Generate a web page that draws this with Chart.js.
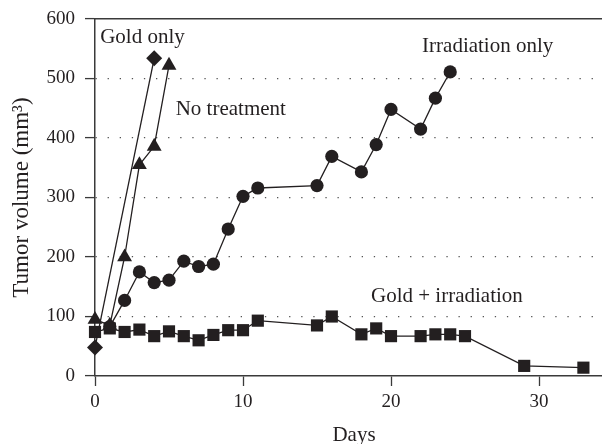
<!DOCTYPE html>
<html>
<head>
<meta charset="utf-8">
<script src="https://cdn.jsdelivr.net/npm/chart.js@4/dist/chart.umd.min.js"></script>
<style>
  html, body { margin: 0; padding: 0; background: #ffffff; overflow: hidden; }
  #frame { width: 602px; height: 444px; overflow: hidden; }
  canvas { display: block; }
</style>
</head>
<body>
<div id="frame"><canvas id="chart" width="613" height="444"></canvas></div>
<script>
// Tumor growth per treatment group (days after treatment, volume in mm³)
const goldOnlyDays = [0, 4];
const goldOnlyVolume = [48, 534];

const noTreatmentDays = [0, 1, 2, 3, 4, 5];
const noTreatmentVolume = [95, 85, 200, 355, 386, 522];

const irradiationDays = [1, 2, 3, 4, 5, 6, 7, 8, 9, 10, 11, 15, 16, 18, 19, 20, 22, 23, 24];
const irradiationVolume = [83, 127, 175, 157, 161, 193, 184, 188, 247, 302, 316, 320, 369, 343, 389, 448, 415, 467, 511];

const goldIrradiationDays = [0, 1, 2, 3, 4, 5, 6, 7, 8, 9, 10, 11, 15, 16, 18, 19, 20, 22, 23, 24, 25, 29, 33];
const goldIrradiationVolume = [74, 80, 74, 78, 67, 75, 67, 60, 69, 77, 77, 93, 85, 100, 70, 80, 67, 67, 70, 70, 67, 17, 14];

const xTickValues = [0, 10, 20, 30];
const yTickValues = [0, 100, 200, 300, 400, 500, 600];

const groupNames = ['Gold only', 'No treatment', 'Irradiation only', 'Gold + irradiation'];

// Where each group's name is written (in data units: day, volume)
const groupNameAnchors = [
  { day: 0.35, volume: 560 },
  { day: 5.45, volume: 439 },
  { day: 22.1, volume: 545 },
  { day: 18.65, volume: 124 }
];

const INK = '#231f20';
const AXIS = '#3a3a3a';
const SERIF = '"Liberation Serif", "Times New Roman", serif';

const toPoints = (xs, ys) => xs.map((x, i) => ({ x: x, y: ys[i] }));

function series(label, xs, ys, style, radius) {
  return {
    label: label,
    data: toPoints(xs, ys),
    borderColor: INK,
    backgroundColor: INK,
    borderWidth: 1.3,
    pointStyle: style,
    pointRadius: radius,
    pointHoverRadius: radius,
    pointBorderWidth: 0,
    pointBackgroundColor: INK,
    tension: 0,
    fill: false,
    clip: false
  };
}

const groupNamesPlugin = {
  id: 'groupNames',
  afterDatasetsDraw(chart) {
    const { ctx, scales } = chart;
    ctx.save();
    ctx.font = '21px ' + SERIF;
    ctx.fillStyle = INK;
    ctx.textAlign = 'left';
    ctx.textBaseline = 'alphabetic';
    groupNames.forEach((name, i) => {
      const a = groupNameAnchors[i];
      ctx.fillText(name, scales.x.getPixelForValue(a.day), scales.y.getPixelForValue(a.volume));
    });
    ctx.restore();
  }
};

new Chart(document.getElementById('chart'), {
  type: 'line',
  data: {
    datasets: [
      series(groupNames[1], noTreatmentDays, noTreatmentVolume, 'triangle', 8.6),
      series(groupNames[0], goldOnlyDays, goldOnlyVolume, 'rectRot', 8),
      series(groupNames[2], irradiationDays, irradiationVolume, 'circle', 6.6),
      series(groupNames[3], goldIrradiationDays, goldIrradiationVolume, 'rect', 8.6)
    ]
  },
  options: {
    responsive: false,
    devicePixelRatio: 1,
    animation: false,
    events: [],
    layout: { autoPadding: false, padding: { top: 19, right: 0, left: 0, bottom: 0 } },
    plugins: {
      legend: { display: false },
      tooltip: { enabled: false }
    },
    scales: {
      x: {
        type: 'linear',
        position: 'bottom',
        min: 0,
        max: 35,
        afterFit(scale) {
          scale.height = 68;
          scale.paddingLeft = 0;
          scale.paddingRight = 0;
        },
        afterBuildTicks(scale) { scale.ticks = xTickValues.map(v => ({ value: v })); },
        ticks: {
          includeBounds: false,
          color: INK,
          padding: 5,
          maxRotation: 0,
          font: { family: SERIF, size: 19 }
        },
        grid: {
          drawOnChartArea: false,
          drawTicks: true,
          tickLength: 10,
          tickColor: AXIS,
          tickWidth: 1.3
        },
        border: { display: true, color: AXIS, width: 1.5 },
        title: {
          display: true,
          text: 'Days',
          color: INK,
          font: { family: SERIF, size: 21, lineHeight: 1 },
          padding: { top: 0, bottom: -1.5 }
        }
      },
      frameTop: {
        type: 'linear',
        position: 'top',
        axis: 'x',
        min: 0,
        max: 35,
        afterFit(scale) {
          scale.height = 0;
          scale.paddingLeft = 0;
          scale.paddingRight = 0;
        },
        ticks: { display: false },
        grid: { display: false, drawTicks: false },
        border: { display: true, color: AXIS, width: 1.5 }
      },
      y: {
        type: 'linear',
        min: 0,
        max: 600,
        afterFit(scale) {
          scale.width = 95;
          scale.paddingTop = 0;
          scale.paddingBottom = 0;
        },
        afterBuildTicks(scale) { scale.ticks = yTickValues.map(v => ({ value: v })); },
        ticks: {
          color: INK,
          padding: 10,
          font: { family: SERIF, size: 19 }
        },
        grid: {
          drawOnChartArea: true,
          drawTicks: true,
          tickLength: 10,
          tickColor: AXIS,
          tickWidth: 1.3,
          lineWidth: 1.2,
          color: (ctx) => {
            const v = ctx.tick ? ctx.tick.value : null;
            return (v === 0 || v === 600) ? 'rgba(0,0,0,0)' : '#555555';
          }
        },
        border: { display: true, color: AXIS, width: 1.5, dash: [1.3, 10.8] },
        title: {
          display: true,
          text: 'Tumor volume (mm³)',
          color: INK,
          font: { family: SERIF, size: 23, lineHeight: 1 },
          padding: { top: 10.5, bottom: 0 }
        }
      }
    }
  },
  plugins: [groupNamesPlugin]
});
</script>
</body>
</html>
